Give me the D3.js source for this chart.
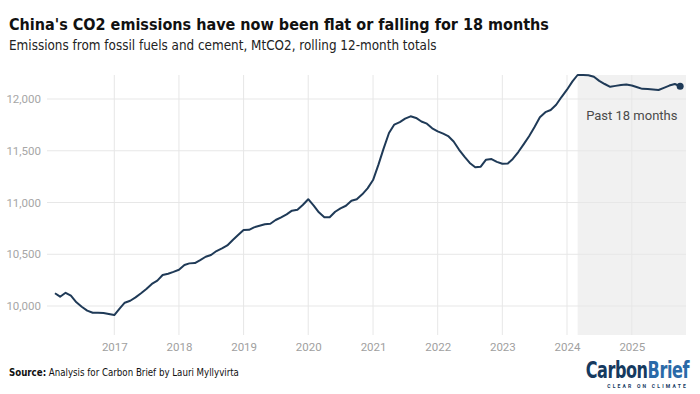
<!DOCTYPE html>
<html>
<head>
<meta charset="utf-8">
<script src="https://cdn.jsdelivr.net/npm/d3@7"></script>
<style>
  body { margin: 0; background: #fff; }
  svg { display: block; }
</style>
</head>
<body>
<div id="chart"></div>
<script>
// Define SVG area dimensions
var svgWidth = 700;
var svgHeight = 394;

// monthly rolling 12-month totals, MtCO2, starting Feb 2016
var startMonth = new Date(2016, 1, 1);
var emissions = [
  10123, 10090, 10128, 10100, 10036, 9993, 9955, 9935, 9935, 9933, 9923,
  9913, 9978, 10032, 10051, 10084, 10123, 10164, 10213, 10245, 10300, 10312, 10330,
  10350, 10396, 10412, 10415, 10444, 10476, 10493, 10531, 10557, 10585, 10638, 10686,
  10734, 10736, 10760, 10776, 10790, 10795, 10831, 10857, 10886, 10921, 10930, 10976,
  11032, 10970, 10905, 10857, 10857, 10911, 10944, 10969, 11017, 11031, 11079, 11137,
  11217, 11368, 11518, 11672, 11753, 11777, 11810, 11833, 11817, 11783, 11762, 11717,
  11688, 11665, 11642, 11590, 11512, 11443, 11382, 11340, 11346, 11414, 11420, 11393,
  11374, 11378, 11421, 11488, 11562, 11640, 11727, 11824, 11873, 11894, 11944, 12019,
  12090, 12170, 12232, 12232, 12230, 12215, 12175, 12145, 12118, 12127, 12136, 12140,
  12130, 12113, 12098, 12097, 12093, 12087, 12108, 12130, 12145, 12123
];
var yTicks = [10000, 10500, 11000, 11500, 12000];
var xTickYears = [2017, 2018, 2019, 2020, 2021, 2022, 2023, 2024, 2025];
var shadeStart = new Date(2024, 2, 1);
var shadeLabel = "Past 18 months";

var titleText = "China's CO2 emissions have now been flat or falling for 18 months";
var subtitleText = "Emissions from fossil fuels and cement, MtCO2, rolling 12-month totals";

var data = emissions.map(function(v, i) {
  return { date: d3.timeMonth.offset(startMonth, i), value: v };
});

// chart area
var plot = { left: 47, right: 686, top: 75, bottom: 335 };

var svg = d3.select("#chart").append("svg")
  .attr("width", svgWidth)
  .attr("height", svgHeight);

var xScale = d3.scaleTime()
  .domain([new Date(2015, 11, 18), new Date(2025, 10, 3)])
  .range([plot.left, plot.right]);

var yScale = d3.scaleLinear()
  .domain([9720, 12232])
  .range([plot.bottom, plot.top]);

// shaded "past 18 months" region
svg.append("rect")
  .attr("x", xScale(shadeStart))
  .attr("y", plot.top)
  .attr("width", plot.right - xScale(shadeStart))
  .attr("height", plot.bottom - plot.top)
  .attr("fill", "#f1f1f1");

// gridlines
svg.append("g")
  .selectAll("line")
  .data(yTicks)
  .enter()
  .append("line")
  .attr("x1", plot.left)
  .attr("x2", plot.right)
  .attr("y1", d => yScale(d))
  .attr("y2", d => yScale(d))
  .attr("stroke", "#e7e7e7")
  .attr("stroke-width", 1);

svg.append("g")
  .selectAll("line")
  .data(xTickYears)
  .enter()
  .append("line")
  .attr("x1", d => xScale(new Date(d, 0, 1)))
  .attr("x2", d => xScale(new Date(d, 0, 1)))
  .attr("y1", plot.top)
  .attr("y2", plot.bottom)
  .attr("stroke", "#e7e7e7")
  .attr("stroke-width", 1);

// y axis labels
var leftAxis = d3.axisLeft(yScale)
  .tickValues(yTicks)
  .tickFormat(d3.format(","))
  .tickSize(0)
  .tickPadding(6);

var yAxis = svg.append("g")
  .attr("transform", `translate(${plot.left}, 0)`)
  .call(leftAxis);
yAxis.select(".domain").remove();
yAxis.selectAll("text")
  .style("font-family", "Roboto, sans-serif")
  .style("font-size", "11.5px")
  .attr("fill", "#a6a6a6");

// x axis labels
var bottomAxis = d3.axisBottom(xScale)
  .tickValues(xTickYears.map(y => new Date(y, 0, 1)))
  .tickFormat(d3.timeFormat("%Y"))
  .tickSize(0)
  .tickPadding(8);

var xAxis = svg.append("g")
  .attr("transform", `translate(0, ${plot.bottom})`)
  .call(bottomAxis);
xAxis.select(".domain").remove();
xAxis.selectAll("text")
  .style("font-family", "Roboto, sans-serif")
  .style("font-size", "11.5px")
  .attr("fill", "#a0a0a0");

// label in shaded area
svg.append("text")
  .attr("x", (xScale(shadeStart) + plot.right) / 2)
  .attr("y", 120)
  .attr("text-anchor", "middle")
  .style("font-family", "Roboto, sans-serif")
  .style("font-size", "13px")
  .attr("fill", "#4a4a4a")
  .text(shadeLabel);

// emissions line
var line = d3.line()
  .x(d => xScale(d.date))
  .y(d => yScale(d.value));

svg.append("path")
  .datum(data)
  .attr("d", line)
  .attr("fill", "none")
  .attr("stroke", "#1f3a57")
  .attr("stroke-width", 2)
  .attr("stroke-linejoin", "round");

var last = data[data.length - 1];
svg.append("circle")
  .attr("cx", xScale(last.date))
  .attr("cy", yScale(last.value))
  .attr("r", 3.5)
  .attr("fill", "#1f3a57");

// title and subtitle
var condensed = "'Liberation Sans Narrow', 'DejaVu Sans Condensed', 'Roboto', sans-serif";

// shrink or grow the font size so the text spans the wanted width
function fitText(sel, width) {
  var size = parseFloat(sel.style("font-size"));
  var w = sel.node().getComputedTextLength();
  sel.style("font-size", (size * width / w).toFixed(2) + "px");
}

var title = svg.append("text")
  .attr("x", 9)
  .attr("y", 30)
  .style("font-family", condensed)
  .style("font-weight", "bold")
  .style("font-size", "19px")
  .attr("fill", "#111")
  .text(titleText);
fitText(title, 540);

var subtitle = svg.append("text")
  .attr("x", 9)
  .attr("y", 50)
  .style("font-family", condensed)
  .style("font-size", "14px")
  .attr("fill", "#222")
  .text(subtitleText);
fitText(subtitle, 428);

// source
var source = svg.append("text")
  .attr("x", 9)
  .attr("y", 376)
  .style("font-family", condensed)
  .style("font-size", "11px")
  .attr("fill", "#111");
source.append("tspan").style("font-weight", "bold").text("Source:");
source.append("tspan").text(" Analysis for Carbon Brief by Lauri Myllyvirta");
fitText(source, 230);

// logo, squeezed horizontally to look like the condensed wordmark
var logo = svg.append("text")
  .attr("transform", "translate(689, 378) scale(0.85, 1.08)")
  .attr("text-anchor", "end")
  .style("font-family", condensed)
  .style("font-weight", "bold")
  .style("font-size", "21px")
  .style("letter-spacing", "-0.5px");
logo.append("tspan").attr("fill", "#163a5f").text("Carbon");
logo.append("tspan").attr("fill", "#2a6aa8").text("Brief");

svg.append("text")
  .attr("x", 688)
  .attr("y", 388)
  .attr("text-anchor", "end")
  .style("font-family", "Roboto, sans-serif")
  .style("font-weight", "bold")
  .style("font-size", "5px")
  .style("letter-spacing", "2.2px")
  .attr("fill", "#163a5f")
  .text("CLEAR ON CLIMATE");
</script>
</body>
</html>
